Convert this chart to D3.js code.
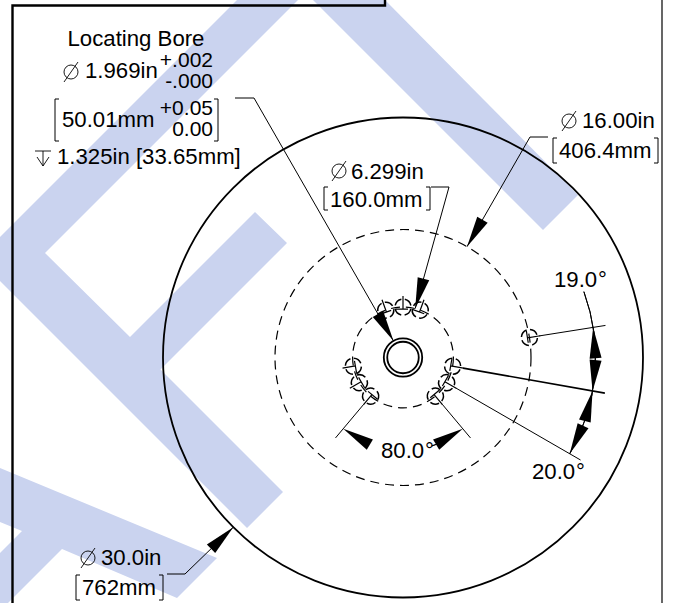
<!DOCTYPE html>
<html>
<head>
<meta charset="utf-8">
<script src="https://cdn.jsdelivr.net/npm/d3@7"></script>
<style>
  html, body { margin: 0; background: #fff; }
  svg { display: block; }
  text { font-family: "Liberation Sans", Arial, sans-serif; font-size: 22.2px; fill: #000; }
  text.tol { font-size: 21px; }
</style>
</head>
<body>
<svg id="drawing" width="673" height="603"></svg>
<script>
// diameters in inches
const outerDiameter = 30.0
const boltCircleOuter = 16.0
const boltCircleInner = 6.299
const boreDiameters = [2.4, 1.969]
const holeDiameter = 1.0

// hole angles in degrees, clockwise from the top of the plate
const innerHoleAngles = [340, 0, 20, 100, 120, 140, 220, 240, 260]
const outerHoleAngles = [81]

// angle dimensions: from, to, label
const angleDimA = [81, 100]
const angleDimB = [100, 120]
const angleDimC = [140, 220]
const angleLabels = ["19.0", "20.0", "80.0"]

const cx = 403, cy = 357.5

// radius in inches -> pixels
const r = d3.scaleLinear().domain([0, 15]).range([0, 240])
// polar helper, angle clockwise from top
const pt = (deg, inches) => {
    const a = deg * Math.PI / 180
    return [cx + r(inches) * Math.sin(a), cy - r(inches) * Math.cos(a)]
}

const svg = d3.select("#drawing")

// background logo
const logoShapes = [
    [[237,0],[0,237],[0,281],[247,528],[283,492],[160.5,369.5],[287,243],[255,212],[130,337],[45,253],[298,0]],
    [[313,0],[543,230],[578,195],[385,0]],
    [[0,468],[217,558],[177,598],[62,549],[0,611],[0,553],[22,531],[0,522]]
]
svg.append("g").selectAll("path")
    .data(logoShapes)
    .join("path")
    .attr("d", d => d3.line()(d) + "Z")
    .attr("fill", "#cad3ef")

// sheet border
svg.append("path").attr("d", "M12.5 603V5.5H385V0").attr("fill", "none").attr("stroke", "#000").attr("stroke-width", 2.4)
svg.append("line").attr("x1", 662).attr("x2", 662).attr("y1", 0).attr("y2", 603).attr("stroke", "#000").attr("stroke-width", 1.2)

const drawing = svg.append("g")

function circle(inches, width, dash) {
    return drawing.append("circle")
        .attr("cx", cx).attr("cy", cy)
        .attr("r", r(inches / 2))
        .attr("fill", "none")
        .attr("stroke", "#000")
        .attr("stroke-width", width)
        .attr("stroke-dasharray", dash)
}
circle(outerDiameter, 1.8)
circle(boltCircleOuter, 1.2, "9 6")
circle(boltCircleInner, 1.2, "9 6")
boreDiameters.forEach(d => circle(d, 1.8))

// bolt holes with their centre marks
function holes(angles, circleDia) {
    const g = drawing.selectAll(null).data(angles).join("g")
        .attr("transform", d => {
            const p = pt(d, circleDia / 2)
            return `translate(${p[0]},${p[1]}) rotate(${d})`
        })
    g.append("circle")
        .attr("r", r(holeDiameter / 2))
        .attr("fill", "none").attr("stroke", "#000").attr("stroke-width", 1.5)
        .attr("stroke-dasharray", "9 3.5")
        .attr("stroke-dashoffset", -1.8)
    g.append("path")
        .attr("d", "M0 -11V2M-7 2H5")
        .attr("fill", "none")
        .attr("stroke", "#000").attr("stroke-width", 1.2)
}
holes(innerHoleAngles, boltCircleInner)
holes(outerHoleAngles, boltCircleOuter)

function line(points, width) {
    drawing.append("path")
        .attr("d", d3.line()(points))
        .attr("fill", "none").attr("stroke", "#000").attr("stroke-width", width || 1)
}

// arrowhead with its tip at p, pointing along the direction from q to p
function arrow(p, q) {
    const len = 31, half = 6
    const dx = p[0] - q[0], dy = p[1] - q[1]
    const d = Math.hypot(dx, dy)
    const ux = dx / d, uy = dy / d
    const bx = p[0] - ux * len, by = p[1] - uy * len
    drawing.append("path")
        .attr("d", d3.line()([p, [bx - uy * half, by + ux * half], [bx + uy * half, by - ux * half]]) + "Z")
        .attr("fill", "#000")
}

// extension lines, from just off the hole out past the dimension arc
const extLen = [61 / 16, 205 / 16]
line([pt(81, 138 / 16), pt(81, extLen[1])])
line([pt(100, extLen[0]), pt(100, extLen[1])], 1.6)
line([pt(120, extLen[0]), pt(120, extLen[1])])
line([pt(140, extLen[0]), pt(140, 105 / 16)])
line([pt(220, extLen[0]), pt(220, 105 / 16)])

// dimension arcs: arrow tips sit on the extension lines
const arcR = 192.5 / 16, lowR = 93 / 16
const along = (deg, rad) => deg + 30 / r(rad) * 180 / Math.PI

function arcBetween(a0, a1, rad) {
    const arc = d3.arc().innerRadius(r(rad)).outerRadius(r(rad))
        .startAngle(a0 * Math.PI / 180).endAngle(a1 * Math.PI / 180)
    drawing.append("path").attr("d", arc()).attr("transform", `translate(${cx},${cy})`)
        .attr("fill", "none").attr("stroke", "#000").attr("stroke-width", 1)
}
arcBetween(70, angleDimB[1], arcR)
arcBetween(angleDimC[0] + 18, angleDimC[0] + 22, lowR)
arrow(pt(angleDimA[0], arcR), pt(along(angleDimA[0], arcR), arcR))
arrow(pt(angleDimA[1], arcR), pt(along(angleDimA[1], -arcR), arcR))
arrow(pt(angleDimB[0], arcR), pt(along(angleDimB[0], arcR), arcR))
arrow(pt(angleDimB[1], arcR), pt(along(angleDimB[1], -arcR), arcR))
arrow(pt(angleDimC[0], lowR), pt(along(angleDimC[0], lowR), lowR))
arrow(pt(angleDimC[1], lowR), pt(along(angleDimC[1], -lowR), lowR))

// leaders
function leader(points) {
    line(points)
    const n = points.length
    arrow(points[n - 1], points[n - 2])
}
leader([[235, 98], [254, 98], pt(-30, boreDiameters[0] / 2)])
leader([[431, 187], [449, 187], pt(14, boltCircleInner / 2)])
leader([[548, 137], [530, 137], pt(30, boltCircleOuter / 2)])
leader([[167, 574], [185, 574], pt(225, outerDiameter / 2)])

// text
function label(x, y, str, anchor) {
    return svg.append("text").attr("x", x).attr("y", y).attr("text-anchor", anchor || "start").text(str)
}
function diaSymbol(x, y) {
    svg.append("circle").attr("cx", x).attr("cy", y).attr("r", 7).attr("fill", "none").attr("stroke", "#000").attr("stroke-width", 0.9)
    svg.append("line").attr("x1", x - 7).attr("y1", y + 10).attr("x2", x + 7).attr("y2", y - 10).attr("stroke", "#000").attr("stroke-width", 0.9)
}
function bracket(x, y0, y1, dir) {
    line([[x + dir * 4, y0], [x, y0], [x, y1], [x + dir * 4, y1]])
}

label(136, 46, "Locating Bore", "middle")
diaSymbol(71, 72)
label(85, 78, "1.969in")
label(213, 67, "+.002", "end").attr("class", "tol")
label(213, 88, "-.000", "end").attr("class", "tol")
bracket(55, 99, 141, 1)
bracket(218, 99, 141, -1)
label(62, 127, "50.01mm")
label(213, 115, "+0.05", "end").attr("class", "tol")
label(213, 136, "0.00", "end").attr("class", "tol")
// depth symbol
line([[35, 151], [51, 151]], 0.9)
line([[43, 151], [43, 166]], 0.9)
line([[37, 157], [43, 166], [49, 157]], 0.9)
label(57, 164, "1.325in [33.65mm]")

diaSymbol(339, 171)
label(351, 179, "6.299in")
bracket(324, 187, 210, 1)
bracket(430, 187, 210, -1)
label(330, 207, "160.0mm")

diaSymbol(569, 121)
label(582, 128, "16.00in")
bracket(553, 138, 163, 1)
bracket(658, 138, 163, -1)
label(559, 158, "406.4mm")

diaSymbol(88, 558)
label(101, 565, "30.0in")
bracket(76, 575, 600, 1)
bracket(163, 575, 600, -1)
label(82, 595, "762mm")

label(554, 287, angleLabels[0])
label(598, 287, "°")
label(532, 479, angleLabels[1])
label(576, 479, "°")
label(381, 458, angleLabels[2])
label(425, 458, "°")
</script>
</body>
</html>
